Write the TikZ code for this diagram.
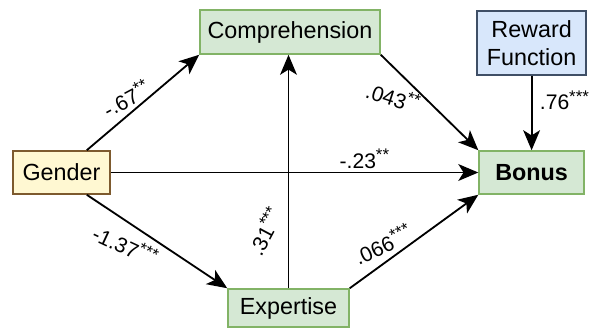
\documentclass[tikz,border=0pt]{standalone}
\usepackage{fontspec}
\setmainfont{Liberation Sans}
\usepackage{tikz}
\usepackage{xcolor}
\usetikzlibrary{arrows.meta, positioning, calc}
\definecolor{greenFill}{HTML}{D5E8D4}
\definecolor{greenLine}{HTML}{82B366}
\definecolor{blueFill}{HTML}{D8E7FB}
\definecolor{blueLine}{HTML}{3F4F66}
\definecolor{yellowFill}{HTML}{FFF8D2}
\definecolor{yellowLine}{HTML}{7D5A2E}
\tikzset{
    varBox/.style={rectangle, draw, line width=1.1pt, inner sep=0pt, align=center, font=\fontsize{16.6}{19.5}\selectfont},
    greenBox/.style={varBox, draw=greenLine, fill=greenFill},
    pathArrow/.style={->, line width=1.3pt},
    coefLabel/.style={font=\fontsize{15}{17}\selectfont, inner sep=1pt}
}
\newcommand{\sig}[1]{\raisebox{0.36em}{\fontsize{12}{13}\selectfont #1}}

\begin{document}
\begin{tikzpicture}[>={Stealth[length=5mm, width=4.2mm, inset=1.3mm]}]
    \useasboundingbox (0,0) rectangle (14.85,8.25);
    % --- variables ---
    \node[greenBox, minimum width=4.5cm, minimum height=1.1cm] (comp) at (7.25,7.45) {Comprehension};
    \node[varBox, draw=blueLine, fill=blueFill, minimum width=2.725cm, minimum height=1.6cm] (reward) at (13.29,7.175) {Reward\\Function};
    \node[greenBox, minimum width=2.625cm, minimum height=1.075cm] (bonus) at (13.29,3.9375) {\textbf{Bonus}};
    \node[varBox, draw=yellowLine, fill=yellowFill, minimum width=2.425cm, minimum height=1.075cm] (gender) at (1.5375,3.9375) {Gender};
    \node[greenBox, minimum width=3.025cm, minimum height=0.95cm] (exp) at (7.2125,0.55) {Expertise};
    % --- paths ---
    \draw[pathArrow] ([xshift=-0.6cm]gender.north east) -- (comp.south west)
        node[coefLabel, pos=0.39, xshift=-0.12cm, yshift=0.37cm, rotate=28]{-.67\sig{**}};
    \draw[pathArrow] ([xshift=-0.6cm]gender.south east) -- (exp.north west)
        node[coefLabel, pos=0.36, xshift=-0.3cm, yshift=-0.42cm, rotate=-25]{-1.37\sig{***}};
    \draw[pathArrow] (gender.east) -- (bonus.west)
        node[coefLabel, pos=0.69, above=1pt]{-.23\sig{**}};
    \draw[pathArrow] (exp.north) -- (exp.north |- comp.south)
        node[coefLabel, pos=0.244, xshift=-0.6cm, rotate=62]{.31\sig{***}};
    \draw[pathArrow] (exp.north east) -- (bonus.south west)
        node[coefLabel, pos=0.31, xshift=-0.18cm, yshift=0.38cm, rotate=25]{.066\sig{***}};
    \draw[pathArrow] (comp.south east) -- (bonus.north west)
        node[coefLabel, pos=0.27, xshift=-0.35cm, yshift=-0.4cm, rotate=-18]{.043\sig{**}};
    \draw[pathArrow] (reward.south) -- (bonus.north)
        node[coefLabel, pos=0.33, right=0.15cm]{.76\sig{***}};
\end{tikzpicture}
\end{document}
